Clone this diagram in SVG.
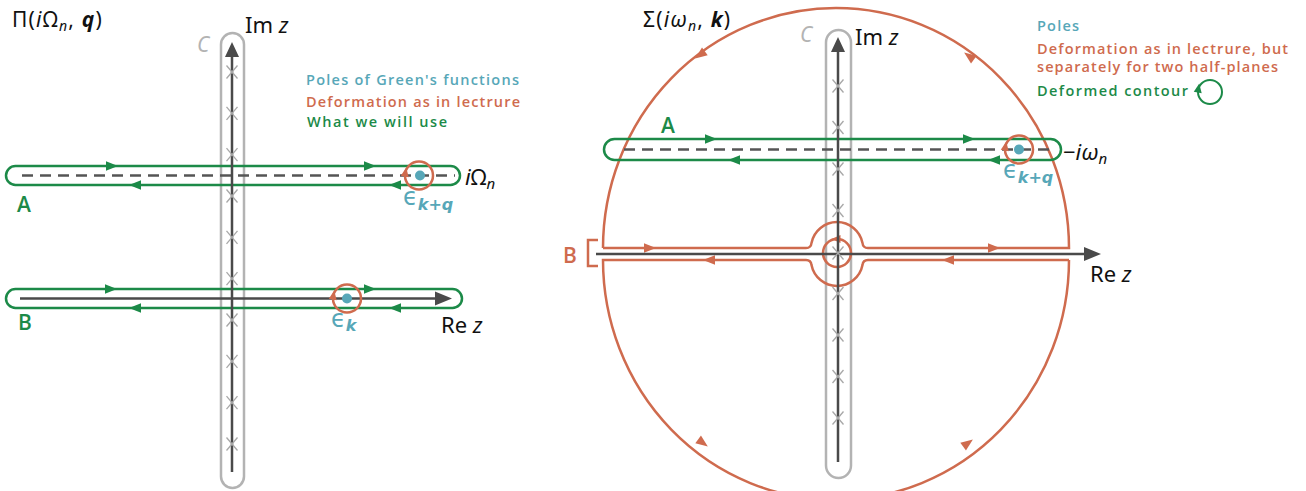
<svg xmlns="http://www.w3.org/2000/svg" xmlns:xlink="http://www.w3.org/1999/xlink" width="1306" height="491" viewBox="0 0 1306 491">
<style>
.cap{fill:none;stroke:#b3b3b3;stroke-width:2.5}
.axis{stroke:#4a4a4a;stroke-width:2.5;fill:none}
.axhead{fill:#4a4a4a}
.x{stroke:#a8a8a8;stroke-width:1.3}
.grn{fill:none;stroke:#1c8a48;stroke-width:2.5}
.org{fill:none;stroke:#cf6b4e;stroke-width:2.5}
.dash{stroke:#555;stroke-width:2.5;stroke-dasharray:11 7}
.ga{fill:#1c8a48}
.oa{fill:#cf6b4e}
.pole{fill:#57a7b8}
.math{font-family:"Noto Sans","DejaVu Sans",sans-serif;fill:#111}
.it{font-style:italic}
.leg{font-family:"Open Sans","Noto Sans",sans-serif;font-size:14.5px;font-weight:600}
.lbl{font-family:"Open Sans","Noto Sans",sans-serif;font-size:21px;font-weight:600}
.eps{font-family:"DejaVu Sans",sans-serif;fill:#57a7b8}
</style>
<defs>
<path id="ah" d="M6,0 L-6,-4.8 L-6,4.8 Z"/>
<path id="ahs" d="M4.5,0 L-4.5,-4 L-4.5,4 Z"/>
<g id="cr"><line class="x" x1="-5.5" y1="-6.5" x2="5.5" y2="6.5"/><line class="x" x1="-5.5" y1="6.5" x2="5.5" y2="-6.5"/></g>
</defs>

<!-- LEFT PANEL -->
<g id="left-title"><text class="math" x="12" y="27" font-size="21" letter-spacing="1.2">Π(<tspan class="it">i</tspan>Ω<tspan class="it" font-size="14" dy="4">n</tspan><tspan dy="-4">, </tspan><tspan font-weight="bold" class="it">q</tspan>)</text></g>
<g id="left-legend" class="leg">
<text x="306" y="85" fill="#57a7b8" textLength="213">Poles of Green's functions</text>
<text x="306" y="106.5" fill="#cf6b4e" textLength="214">Deformation as in lectrure</text>
<text x="307" y="126.5" fill="#1c8a48" textLength="140">What we will use</text>
</g>
<g id="left-C">
<rect class="cap" x="221" y="33" width="23" height="455" rx="11.5"/>
<text x="197" y="52" font-family="Noto Sans,DejaVu Sans,sans-serif" font-size="21" font-style="italic" fill="#b3b3b3">C</text>
</g>
<g id="left-A">
<rect class="grn" x="6" y="166" width="454" height="19" rx="9.5"/>
<line class="dash" x1="22" y1="175.5" x2="455" y2="175.5"/>
<use href="#ah" class="ga" transform="translate(112,166)"/>
<use href="#ah" class="ga" transform="translate(370,166)"/>
<use href="#ah" class="ga" transform="translate(135,185) rotate(180)"/>
<use href="#ah" class="ga" transform="translate(395,185) rotate(180)"/>
<text class="lbl" x="17" y="212" fill="#1c8a48">A</text>
</g>
<g id="left-B">
<rect class="grn" x="6" y="289" width="456" height="19" rx="9.5"/>
<use href="#ah" class="ga" transform="translate(111,289)"/>
<use href="#ah" class="ga" transform="translate(370,289)"/>
<use href="#ah" class="ga" transform="translate(135,308) rotate(180)"/>
<use href="#ah" class="ga" transform="translate(395,308) rotate(180)"/>
<text class="lbl" x="18" y="330" fill="#1c8a48">B</text>
</g>
<g id="left-axes">
<line class="axis" x1="232" y1="472" x2="232" y2="54"/>
<polygon class="axhead" points="232,42 225,57 239,57"/>
<line class="axis" x1="20" y1="298.5" x2="437" y2="298.5"/>
<polygon class="axhead" points="452,298.5 435,291.5 435,305.5"/>
<use href="#cr" x="232" y="72"/><use href="#cr" x="232" y="113.3"/><use href="#cr" x="232" y="154.6"/><use href="#cr" x="232" y="196"/><use href="#cr" x="232" y="237.3"/><use href="#cr" x="232" y="278.6"/><use href="#cr" x="232" y="320"/><use href="#cr" x="232" y="361.3"/><use href="#cr" x="232" y="402.6"/><use href="#cr" x="232" y="444"/>
<text class="math" x="245" y="33" font-size="22">Im <tspan class="it">z</tspan></text>
<text class="math" x="441" y="333" font-size="22">Re <tspan class="it">z</tspan></text>
<text class="math" x="465" y="185" font-size="22"><tspan class="it">i</tspan>Ω<tspan class="it" font-size="15" dy="4">n</tspan></text>
</g>
<g id="left-pole-A">
<circle class="org" cx="419" cy="175.5" r="14" stroke-width="2"/>
<use href="#ahs" class="oa" transform="translate(405.5,172) rotate(-80)"/>
<circle class="pole" cx="420" cy="175.5" r="5"/>
<text class="eps" x="403" y="205" font-size="24">ϵ<tspan font-size="16" font-weight="bold" font-style="italic" dy="5">k+q</tspan></text>
</g>
<g id="left-pole-B">
<circle class="org" cx="347" cy="298.5" r="14" stroke-width="2"/>
<use href="#ahs" class="oa" transform="translate(333.5,295) rotate(-80)"/>
<circle class="pole" cx="347" cy="298.5" r="5"/>
<text class="eps" x="331" y="327" font-size="24">ϵ<tspan font-size="16" font-weight="bold" font-style="italic" dy="4">k</tspan></text>
</g>

<!-- RIGHT PANEL -->
<g id="right-title"><text class="math" x="643" y="27" font-size="21" letter-spacing="1.2">Σ(<tspan class="it">iω</tspan><tspan class="it" font-size="14" dy="4">n</tspan><tspan dy="-4">, </tspan><tspan font-weight="bold" class="it">k</tspan>)</text></g>
<g id="right-legend" class="leg">
<text x="1037" y="31" fill="#57a7b8" textLength="42">Poles</text>
<text x="1037" y="54" fill="#cf6b4e" textLength="251">Deformation as in lectrure, but</text>
<text x="1037" y="71.5" fill="#cf6b4e" textLength="241">separately for two half-planes</text>
<text x="1037" y="96" fill="#1c8a48" textLength="151">Deformed contour</text>
<circle cx="1210" cy="92" r="12" fill="none" stroke="#1c8a48" stroke-width="2"/>
<use href="#ahs" class="ga" transform="translate(1198.5,88) rotate(-80)"/>
</g>
<g id="right-C">
<rect class="cap" x="826" y="30" width="25" height="448" rx="12.5"/>
<text x="800" y="42" font-family="Noto Sans,DejaVu Sans,sans-serif" font-size="21" font-style="italic" fill="#b3b3b3">C</text>
</g>
<g id="right-B">
<path class="org" d="M603,248 H806 Q811,248 811.5,243 A26,26 0 0 1 862.5,243 Q863,248 868,248 H1069 A233,240 0 0 0 603,248"/>
<path class="org" d="M1069,260 H868 Q863,260 862.5,265 A26,26 0 0 1 811.5,265 Q811,260 806,260 H603 A233,240 0 0 0 1069,260"/>
<circle class="org" cx="837" cy="253" r="14"/>
<use href="#ahs" class="oa" transform="translate(836,239) rotate(180)"/>
<use href="#ah" class="oa" transform="translate(650,248)"/>
<use href="#ah" class="oa" transform="translate(994,248)"/>
<use href="#ah" class="oa" transform="translate(709,260) rotate(180)"/>
<use href="#ah" class="oa" transform="translate(948,260) rotate(180)"/>
<use href="#ah" class="oa" transform="translate(700,55) rotate(144)"/>
<use href="#ah" class="oa" transform="translate(969,56) rotate(216)"/>
<use href="#ah" class="oa" transform="translate(703,443) rotate(36)"/>
<use href="#ah" class="oa" transform="translate(968,443) rotate(-36)"/>
<path d="M598,240 H588 V266 H598" fill="none" stroke="#cf6b4e" stroke-width="2.5"/>
<text class="lbl" x="563" y="263" fill="#cf6b4e">B</text>
</g>
<g id="right-A">
<rect class="grn" x="604" y="139" width="457" height="21" rx="10.5"/>
<line class="dash" x1="624" y1="149.5" x2="1054" y2="149.5"/>
<use href="#ah" class="ga" transform="translate(711,139)"/>
<use href="#ah" class="ga" transform="translate(969,139)"/>
<use href="#ah" class="ga" transform="translate(734,160) rotate(180)"/>
<use href="#ah" class="ga" transform="translate(994,160) rotate(180)"/>
<text class="lbl" x="661" y="133" fill="#1c8a48">A</text>
</g>
<g id="right-axes">
<line class="axis" x1="838" y1="462" x2="838" y2="50"/>
<polygon class="axhead" points="838,37 831,52 845,52"/>
<line class="axis" x1="596" y1="254" x2="1086" y2="254"/>
<polygon class="axhead" points="1101,254 1084,247 1084,261"/>
<use href="#cr" x="838" y="86"/><use href="#cr" x="838" y="127.5"/><use href="#cr" x="838" y="169"/><use href="#cr" x="838" y="210.5"/><use href="#cr" x="838" y="253"/><use href="#cr" x="838" y="293.5"/><use href="#cr" x="838" y="335"/><use href="#cr" x="838" y="376.5"/><use href="#cr" x="838" y="418"/>
<text class="math" x="855" y="45" font-size="22">Im <tspan class="it">z</tspan></text>
<text class="math" x="1090" y="282" font-size="22">Re <tspan class="it">z</tspan></text>
<text class="math" x="1063" y="160" font-size="22">−<tspan class="it">iω</tspan><tspan class="it" font-size="15" dy="4">n</tspan></text>
</g>
<g id="right-pole">
<circle class="org" cx="1019" cy="149.5" r="14" stroke-width="2"/>
<use href="#ahs" class="oa" transform="translate(1005.5,146) rotate(-80)"/>
<circle class="pole" cx="1019" cy="149.5" r="5"/>
<text class="eps" x="1003" y="178" font-size="24">ϵ<tspan font-size="16" font-weight="bold" font-style="italic" dy="5">k+q</tspan></text>
</g>
</svg>
